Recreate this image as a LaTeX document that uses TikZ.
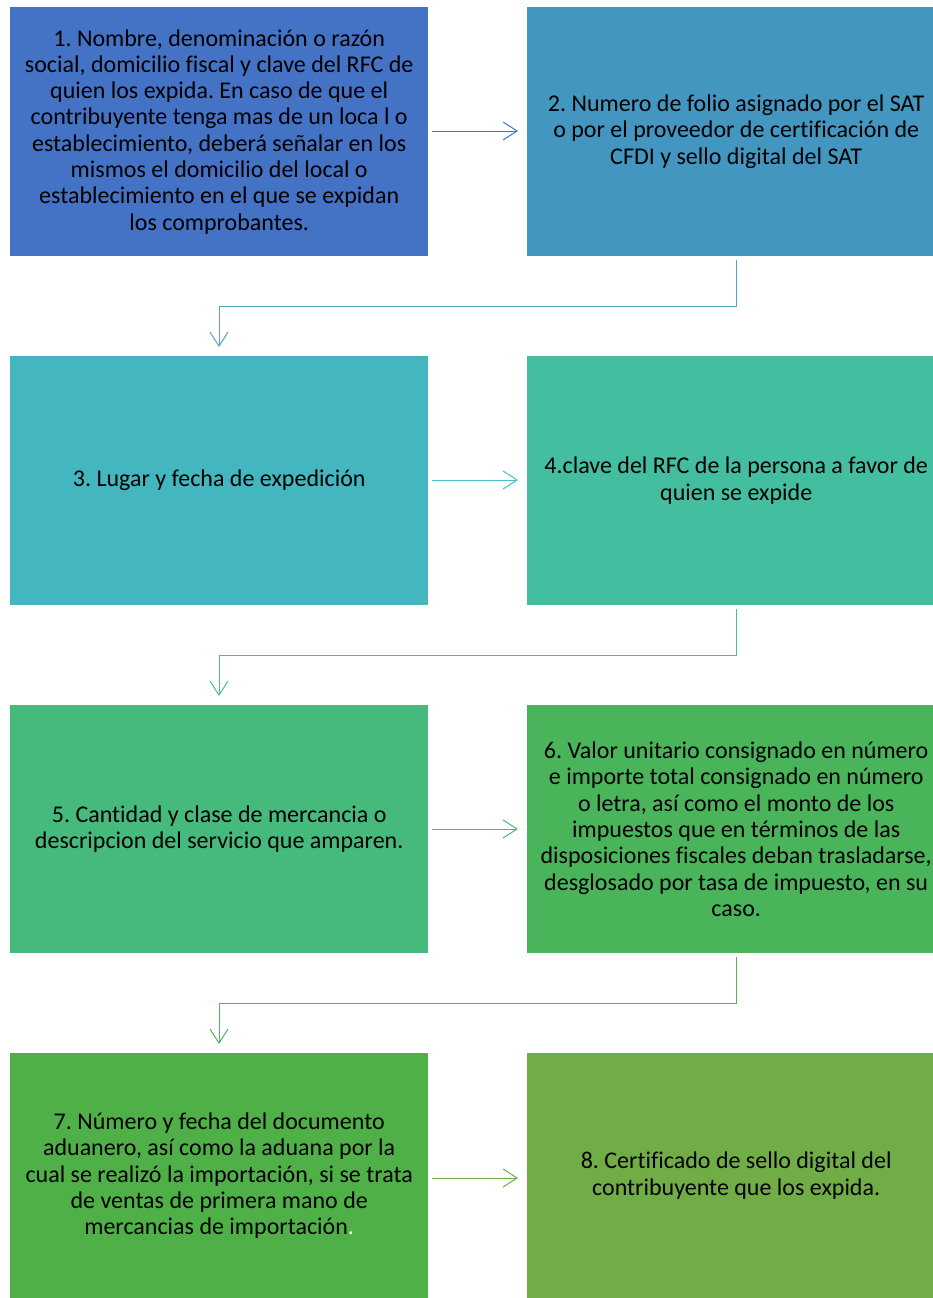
\documentclass[tikz,border=0pt]{standalone}
\usepackage{fontspec}
\setmainfont{Carlito}[Ligatures=NoCommon]
\usetikzlibrary{arrows.meta}
\frenchspacing
\definecolor{cA}{RGB}{68,114,196}
\definecolor{cB}{RGB}{67,150,192}
\definecolor{cC}{RGB}{67,182,192}
\definecolor{cD}{RGB}{67,190,160}
\definecolor{cE}{RGB}{70,186,124}
\definecolor{cF}{RGB}{74,180,90}
\definecolor{cG}{RGB}{80,176,72}
\definecolor{cH}{RGB}{112,173,71}
\definecolor{lA}{RGB}{68,114,196}
\definecolor{lB}{RGB}{80,165,200}
\definecolor{lC}{RGB}{70,190,195}
\definecolor{lD}{RGB}{70,190,150}
\definecolor{lE}{RGB}{72,186,120}
\definecolor{lF}{RGB}{80,180,90}
\definecolor{lG}{RGB}{112,173,71}
\tikzset{
  box/.style={draw=none, anchor=north west, inner sep=0pt, font=\frenchspacing\fontsize{24}{26.3}\selectfont, align=center, text=black},
  conn/.style={line width=1pt, -{Straight Barb[length=14pt, width=18pt, line width=1pt]}},
}
\begin{document}
\begin{tikzpicture}[x=1pt,y=-1pt]
\useasboundingbox (0,0) rectangle (933,1298);
% boxes
\fill[cA] (10,7) rectangle (428,256);
\fill[cB] (527,7) rectangle (933,256);
\fill[cC] (10,356) rectangle (428,605);
\fill[cD] (527,356) rectangle (933,605);
\fill[cE] (10,705) rectangle (428,953);
\fill[cF] (527,705) rectangle (933,953);
\fill[cG] (10,1053) rectangle (428,1298);
\fill[cH] (527,1053) rectangle (933,1298);
% named nodes
\node[box, minimum width=418pt, minimum height=249pt] (b1) at (10,7) {1. Nombre, denominación o razón\\social, domicilio fiscal y clave del RFC de\\quien los expida. En caso de que el\\contribuyente tenga mas de un loca l o\\establecimiento, deberá señalar en los\\mismos el domicilio del local o\\establecimiento en el que se expidan\\los comprobantes.};
\node[box, minimum width=418pt, minimum height=249pt] (b2) at (527,7) {2. Numero de folio asignado por el SAT\\o por el proveedor de certificación de\\CFDI y sello digital del SAT};
\node[box, minimum width=418pt, minimum height=249pt] (b3) at (10,356) {3. Lugar y fecha de expedición};
\node[box, minimum width=418pt, minimum height=249pt] (b4) at (527,356) {4.clave del RFC de la persona a favor de\\quien se expide};
\node[box, minimum width=418pt, minimum height=248pt] (b5) at (10,705) {5. Cantidad y clase de mercancia o\\descripcion del servicio que amparen.};
\node[box, minimum width=418pt, minimum height=248pt] (b6) at (527,705) {6. Valor unitario consignado en número\\e importe total consignado en número\\o letra, así como el monto de los\\impuestos que en términos de las\\disposiciones fiscales deban trasladarse,\\desglosado por tasa de impuesto, en su\\caso.};
\node[box, minimum width=418pt, minimum height=245pt] (b7) at (10,1053) {7. Número y fecha del documento\\aduanero, así como la aduana por la\\cual se realizó la importación, si se trata\\de ventas de primera mano de\\mercancias de importación{\color{white}.}};
\node[box, minimum width=418pt, minimum height=245pt] (b8) at (527,1053) {8. Certificado de sello digital del\\contribuyente que los expida.};
% connectors
\coordinate (s1) at (432,131);  \coordinate (e1) at (518,131);
\draw[conn, lA] (s1) -- (e1);
\coordinate (d1) at (736,260); \coordinate (f1) at (219,347);
\draw[conn, lB] (d1) |- (219,306) -- (f1);
\coordinate (s2) at (432,480);  \coordinate (e2) at (518,480);
\draw[conn, lC] (s2) -- (e2);
\coordinate (d2) at (736,609); \coordinate (f2) at (219,696);
\draw[conn, lD] (d2) |- (219,655) -- (f2);
\coordinate (s3) at (432,829);  \coordinate (e3) at (518,829);
\draw[conn, lE] (s3) -- (e3);
\coordinate (d3) at (736,957); \coordinate (f3) at (219,1044);
\draw[conn, lF] (d3) |- (219,1003) -- (f3);
\coordinate (s4) at (432,1178);  \coordinate (e4) at (518,1178);
\draw[conn, lG] (s4) -- (e4);
\end{tikzpicture}
\end{document}
